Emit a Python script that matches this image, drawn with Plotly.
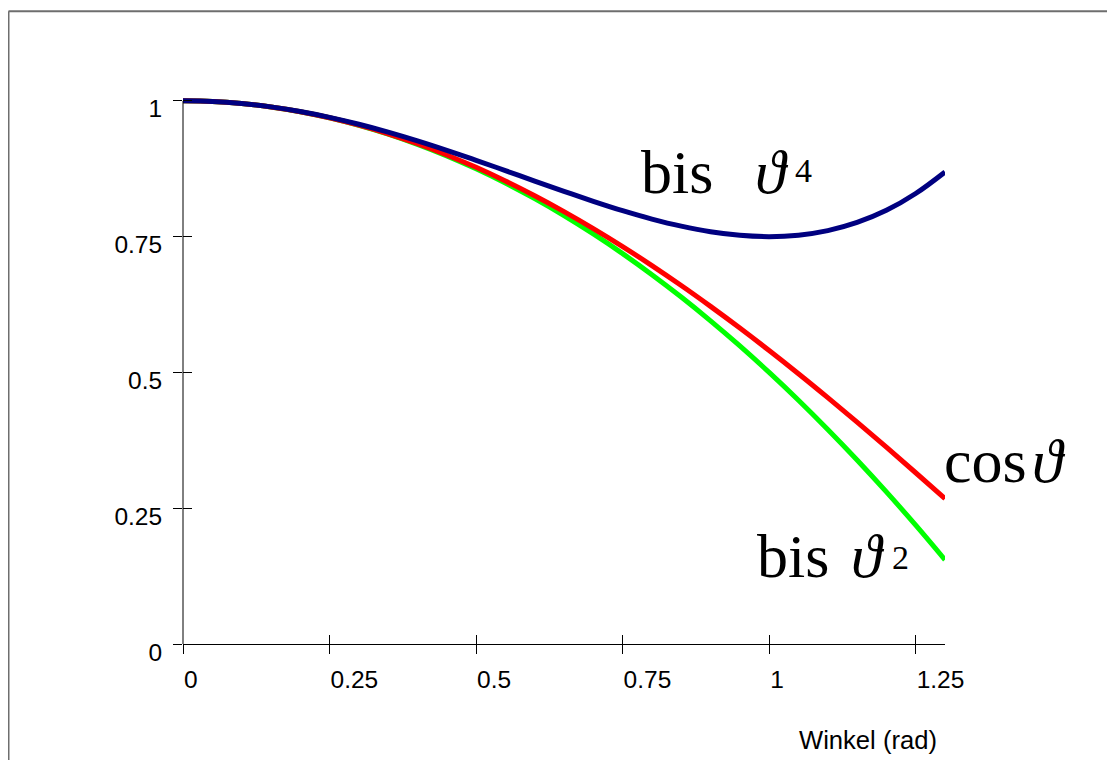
import plotly.graph_objects as go

# ---- data ----
winkel = [0.0, 0.05, 0.1, 0.15, 0.2, 0.25, 0.3, 0.35, 0.4, 0.45, 0.5, 0.55, 0.6, 0.65,
          0.7, 0.75, 0.8, 0.85, 0.9, 0.95, 1.0, 1.05, 1.1, 1.15, 1.2, 1.25, 1.3]
cos_theta = [1.000, 0.9988, 0.9950, 0.9888, 0.9801, 0.9689, 0.9553, 0.9394, 0.9211, 0.9004,
             0.8776, 0.8525, 0.8253, 0.7961, 0.7648, 0.7317, 0.6967, 0.6600, 0.6216, 0.5817,
             0.5403, 0.4976, 0.4536, 0.4085, 0.3624, 0.3153, 0.2675]
bis_theta2 = [1.000, 0.9988, 0.9950, 0.9888, 0.9800, 0.9688, 0.9550, 0.9388, 0.9200, 0.8988,
              0.8750, 0.8488, 0.8200, 0.7888, 0.7550, 0.7188, 0.6800, 0.6388, 0.5950, 0.5488,
              0.5000, 0.4488, 0.3950, 0.3388, 0.2800, 0.2188, 0.1550]
bis_theta4 = [1.000, 0.9988, 0.9950, 0.9889, 0.9804, 0.9697, 0.9570, 0.9425, 0.9264, 0.9090,
              0.8906, 0.8716, 0.8524, 0.8335, 0.8151, 0.7978, 0.7824, 0.7693, 0.7590, 0.7525,
              0.7500, 0.7526, 0.7610, 0.7761, 0.7984, 0.8294, 0.8690]

x_tickvals = [0, 0.25, 0.5, 0.75, 1, 1.25]
x_ticktext = ["0", "0.25", "0.5", "0.75", "1", "1.25"]
y_tickvals = [0, 0.25, 0.5, 0.75, 1]
y_ticktext = ["0", "0.25", "0.5", "0.75", "1"]
x_title = "Winkel (rad)"

# ---- layout geometry (page body has an 8px margin) ----
OFF = 8
W, H = 1115, 760
L = 183 - OFF            # x = 0
XR = 945 - OFF           # x = 1.3
Y0 = 644 - OFF           # y = 0
YMAX = 1.02
Y1 = 101 - OFF           # y = 1
YTOP = Y0 - (Y0 - Y1) * YMAX
R = W - XR
T = YTOP
B = H - Y0
PW = XR - L
PH = Y0 - YTOP


def px(xs):
    return (xs - OFF - L) / PW


def py(ys):
    return (Y0 - (ys - OFF)) / PH


fig = go.Figure()
fig.add_trace(go.Scatter(x=winkel, y=bis_theta2, mode="lines", line=dict(color="#00FF00", width=5, shape="spline"),
                         showlegend=False, hoverinfo="skip"))
fig.add_trace(go.Scatter(x=winkel, y=cos_theta, mode="lines", line=dict(color="#FF0000", width=5, shape="spline"),
                         showlegend=False, hoverinfo="skip"))
fig.add_trace(go.Scatter(x=winkel, y=bis_theta4, mode="lines", line=dict(color="#000080", width=5, shape="spline"),
                         showlegend=False, hoverinfo="skip"))
# empty helper trace so the overlaid (inside-tick) axes get drawn
fig.add_trace(go.Scatter(x=[], y=[], xaxis="x2", yaxis="y2", showlegend=False, hoverinfo="skip"))

tickfont = dict(family="Liberation Sans, Arial, sans-serif", size=24.5, color="black")

fig.update_layout(
    width=W, height=H, autosize=False,
    margin=dict(l=L, r=R, t=T, b=B, pad=0),
    paper_bgcolor="white", plot_bgcolor="rgba(0,0,0,0)",
    showlegend=False,
    xaxis=dict(domain=[0, 1], range=[0, 1.3], anchor="y", showline=True, linecolor="black", linewidth=1,
               ticks="outside", ticklen=9, tickcolor="black", tickwidth=1,
               tickvals=x_tickvals, ticktext=x_ticktext, ticklabelposition="outside right",
               ticklabelstandoff=14, tickfont=tickfont, showgrid=False, zeroline=False),
    xaxis2=dict(overlaying="x", range=[0, 1.3], anchor="y", showline=False,
                ticks="inside", ticklen=9, tickcolor="black", tickwidth=1,
                tickvals=x_tickvals, showticklabels=False, showgrid=False, zeroline=False),
    yaxis=dict(domain=[0, 1], range=[0, YMAX], anchor="x", showline=False,
               ticks="outside", ticklen=9, tickcolor="black", tickwidth=1,
               tickvals=y_tickvals, ticktext=y_ticktext, tickfont=tickfont,
               ticklabelstandoff=6, ticklabelshift=8, showgrid=False, zeroline=False),
    yaxis2=dict(overlaying="y", range=[0, YMAX], anchor="x", showline=False,
                ticks="inside", ticklen=9, tickcolor="black", tickwidth=1,
                tickvals=y_tickvals, showticklabels=False, showgrid=False, zeroline=False),
)

# y axis line from 0 to 1 (x at the plot's left edge)
fig.add_shape(type="line", xref="paper", yref="y", x0=0, x1=0, y0=y_tickvals[0], y1=y_tickvals[-1],
              line=dict(color="black", width=1), layer="above")

# frame
frame = dict(color="#6e6e6e", width=2)
fig.add_shape(type="line", xref="paper", yref="paper", x0=px(8.5), x1=px(8.5), y0=py(11.5), y1=py(820), line=frame)
fig.add_shape(type="line", xref="paper", yref="paper", x0=px(8.5), x1=px(1200), y0=py(11.5), y1=py(11.5), line=frame)

serif = "Liberation Serif, Times New Roman, serif"
big = 62
sup = 34


def label(text, xl, yc, size, family=serif):
    fig.add_annotation(x=px(xl), y=py(yc), xref="paper", yref="paper", text=text, showarrow=False,
                       xanchor="left", yanchor="middle", font=dict(family=family, size=size, color="black"))


# bis θ^4
label("bis", 639, 172, big)
label("<i>ϑ</i>", 753, 172, big)
label("4", 793, 171, sup)
# cos θ
label("cos", 942, 461, big)
label("<i>ϑ</i>", 1030, 461, big)
# bis θ^2
label("bis", 755, 556, big)
label("<i>ϑ</i>", 849, 556, big)
label("2", 890, 558, sup)
# axis title
label(x_title, 797, 740, 25.6, family="Liberation Sans, Arial, sans-serif")

fig.write_html("out.html")
